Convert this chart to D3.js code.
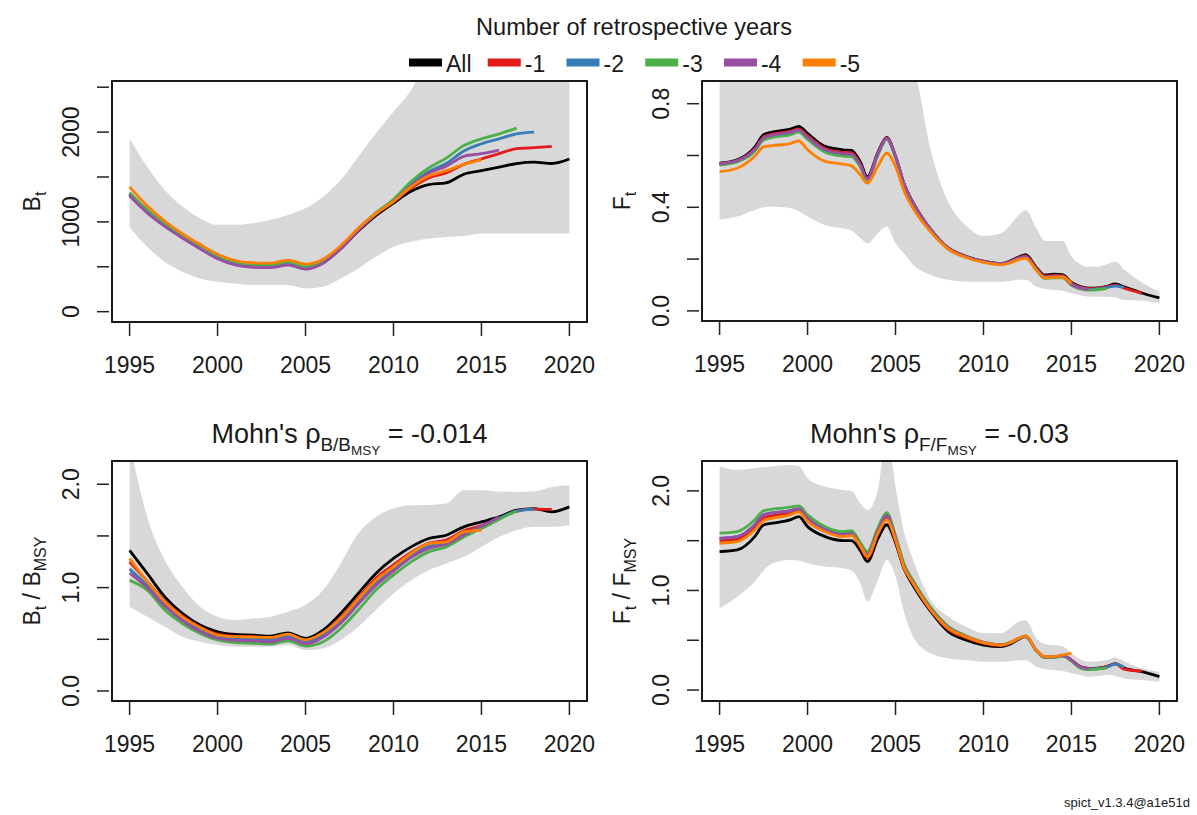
<!DOCTYPE html>
<html>
<head>
<meta charset="utf-8">
<script src="https://cdn.jsdelivr.net/npm/d3@7/dist/d3.min.js"></script>
<style>
  body { margin: 0; background: #fff; }
  text { font-family: "Liberation Sans", Arial, sans-serif; fill: #1a1a1a; }
</style>
</head>
<body>
<div id="plot"></div>
<script>
var w = 1197;
var h = 815;

// time steps
var yearsB = [1995, 1996, 1997, 1998, 1999, 2000, 2001, 2002, 2003, 2004, 2005, 2006, 2007,
	2008, 2009, 2010, 2011, 2012, 2013, 2014, 2015, 2016, 2017, 2018, 2019, 2020];
var yearsF = [1995, 1996, 1997, 1997.5, 1998, 1999, 1999.5, 2000, 2001, 2002, 2002.5, 2003, 2003.4,
	2004, 2004.5, 2005, 2005.5, 2006, 2007, 2008, 2009, 2010, 2011, 2011.5, 2012, 2012.4, 2013,
	2013.5, 2014, 2014.5, 2015, 2015.5, 2016, 2016.5, 2017, 2017.5, 2018, 2019, 2020];
var xTicks = [1995, 2000, 2005, 2010, 2015, 2020];

var retroNames = ['All', '-1', '-2', '-3', '-4', '-5'];
var retroColors = ['#000000', '#E41A1C', '#377EB8', '#4DAF4A', '#984EA3', '#FF7F00'];

// B_t
var btAll = [1300, 1110, 960, 830, 710, 600, 530, 505, 500, 530, 480, 545, 700, 900, 1070, 1210, 1340, 1415, 1435, 1530, 1570, 1610, 1650, 1665, 1650, 1700];
var btM1 = [1315, 1125, 970, 840, 720, 610, 540, 515, 510, 540, 490, 555, 710, 910, 1085, 1225, 1375, 1490, 1545, 1640, 1700, 1760, 1815, 1826, 1840];
var btM2 = [1320, 1130, 975, 845, 725, 615, 545, 520, 515, 545, 495, 560, 715, 920, 1095, 1240, 1420, 1560, 1650, 1790, 1870, 1925, 1980, 2000];
var btM3 = [1325, 1135, 980, 850, 730, 620, 550, 525, 520, 550, 500, 565, 720, 925, 1100, 1250, 1450, 1600, 1710, 1850, 1925, 1980, 2045];
var btM4 = [1290, 1100, 950, 820, 700, 590, 520, 495, 490, 520, 475, 540, 700, 905, 1085, 1230, 1400, 1540, 1620, 1730, 1760, 1800];
var btM5 = [1390, 1180, 1010, 870, 750, 640, 570, 545, 540, 575, 530, 585, 735, 930, 1095, 1225, 1390, 1510, 1570, 1640, 1690];
var btHi = [1930, 1615, 1356, 1170, 1041, 967, 967, 985, 1022, 1078, 1152, 1281, 1467, 1726, 1985, 2226, 2467, 2800, 2800, 2800, 2800, 2800, 2800, 2800, 2800, 2800];
var btLo = [944, 722, 555, 444, 370, 333, 315, 296, 296, 296, 259, 278, 370, 481, 611, 722, 778, 815, 833, 844, 870, 870, 870, 870, 870, 870];

// F_t
var ftAll = [0.570, 0.583, 0.632, 0.680, 0.690, 0.702, 0.712, 0.685, 0.635, 0.622, 0.620, 0.575, 0.518, 0.612, 0.670, 0.598, 0.488, 0.418, 0.315, 0.243, 0.211, 0.192, 0.183, 0.192, 0.208, 0.217, 0.168, 0.138, 0.142, 0.140, 0.110, 0.094, 0.088, 0.089, 0.095, 0.104, 0.093, 0.069, 0.050];
var ftM1 = [0.568, 0.580, 0.626, 0.672, 0.683, 0.693, 0.703, 0.676, 0.627, 0.612, 0.610, 0.567, 0.512, 0.608, 0.668, 0.596, 0.487, 0.417, 0.314, 0.242, 0.210, 0.191, 0.182, 0.190, 0.205, 0.212, 0.165, 0.134, 0.137, 0.136, 0.107, 0.092, 0.086, 0.088, 0.093, 0.099, 0.088, 0.068];
var ftM2 = [0.565, 0.577, 0.620, 0.665, 0.676, 0.686, 0.695, 0.668, 0.619, 0.604, 0.602, 0.560, 0.507, 0.604, 0.665, 0.594, 0.485, 0.415, 0.313, 0.241, 0.209, 0.190, 0.181, 0.189, 0.203, 0.209, 0.162, 0.130, 0.133, 0.133, 0.104, 0.089, 0.083, 0.085, 0.090, 0.096, 0.091];
var ftM3 = [0.563, 0.575, 0.616, 0.660, 0.670, 0.680, 0.690, 0.662, 0.613, 0.598, 0.596, 0.555, 0.503, 0.601, 0.663, 0.592, 0.484, 0.414, 0.312, 0.240, 0.208, 0.189, 0.180, 0.187, 0.200, 0.206, 0.158, 0.125, 0.128, 0.128, 0.099, 0.085, 0.080, 0.082, 0.086];
var ftM4 = [0.568, 0.580, 0.624, 0.668, 0.679, 0.689, 0.698, 0.671, 0.622, 0.607, 0.605, 0.563, 0.510, 0.606, 0.666, 0.595, 0.486, 0.416, 0.313, 0.241, 0.209, 0.190, 0.181, 0.189, 0.203, 0.208, 0.161, 0.130, 0.133, 0.133, 0.102, 0.088, 0.083];
var ftM5 = [0.538, 0.551, 0.597, 0.633, 0.638, 0.646, 0.656, 0.622, 0.577, 0.567, 0.560, 0.525, 0.493, 0.559, 0.609, 0.558, 0.461, 0.396, 0.305, 0.238, 0.206, 0.187, 0.178, 0.185, 0.198, 0.203, 0.158, 0.128, 0.130, 0.130, 0.105];
var ftHi = [1, 1, 1, 1, 1, 1, 1, 1, 1, 1, 1, 1, 1, 1, 1, 1, 1, 0.95, 0.62, 0.42, 0.33, 0.29, 0.30, 0.33, 0.37, 0.39, 0.32, 0.27, 0.27, 0.27, 0.21, 0.18, 0.17, 0.17, 0.18, 0.19, 0.16, 0.11, 0.075];
var ftLo = [0.352, 0.364, 0.390, 0.400, 0.403, 0.397, 0.385, 0.364, 0.332, 0.319, 0.310, 0.281, 0.261, 0.300, 0.326, 0.261, 0.220, 0.178, 0.139, 0.120, 0.113, 0.113, 0.113, 0.115, 0.120, 0.120, 0.094, 0.085, 0.081, 0.078, 0.068, 0.060, 0.055, 0.055, 0.055, 0.052, 0.042, 0.040, 0.030];

// B_t / B_MSY
var bbAll = [1.36, 1.137, 0.911, 0.75, 0.638, 0.573, 0.547, 0.541, 0.531, 0.563, 0.509, 0.589, 0.75, 0.944, 1.137, 1.282, 1.394, 1.475, 1.507, 1.588, 1.636, 1.684, 1.749, 1.765, 1.733, 1.781];
var bbM1 = [1.25, 1.06, 0.87, 0.725, 0.62, 0.55, 0.528, 0.523, 0.514, 0.546, 0.49, 0.56, 0.71, 0.90, 1.09, 1.22, 1.34, 1.43, 1.46, 1.55, 1.60, 1.67, 1.74, 1.76, 1.756];
var bbM2 = [1.18, 1.02, 0.84, 0.70, 0.59, 0.525, 0.505, 0.50, 0.49, 0.525, 0.47, 0.54, 0.68, 0.87, 1.05, 1.18, 1.31, 1.40, 1.43, 1.52, 1.59, 1.67, 1.74, 1.76];
var bbM3 = [1.07, 0.976, 0.783, 0.653, 0.557, 0.493, 0.467, 0.461, 0.454, 0.486, 0.435, 0.477, 0.605, 0.783, 0.976, 1.121, 1.249, 1.346, 1.394, 1.49, 1.571, 1.66, 1.742];
var bbM4 = [1.14, 1.0, 0.82, 0.68, 0.575, 0.51, 0.49, 0.485, 0.475, 0.51, 0.455, 0.52, 0.655, 0.84, 1.02, 1.16, 1.29, 1.38, 1.42, 1.51, 1.594, 1.684];
var bbM5 = [1.28, 1.06, 0.863, 0.718, 0.615, 0.541, 0.525, 0.522, 0.518, 0.55, 0.495, 0.565, 0.702, 0.89, 1.072, 1.201, 1.33, 1.426, 1.442, 1.539, 1.555];
var bbHi = [2.4, 1.684, 1.266, 1.008, 0.815, 0.718, 0.686, 0.70, 0.718, 0.766, 0.831, 0.976, 1.234, 1.523, 1.684, 1.765, 1.797, 1.80, 1.813, 1.942, 1.942, 1.93, 1.926, 1.93, 1.974, 1.99];
var bbLo = [0.815, 0.718, 0.621, 0.525, 0.477, 0.444, 0.428, 0.428, 0.428, 0.444, 0.396, 0.412, 0.493, 0.621, 0.783, 0.944, 1.072, 1.169, 1.234, 1.298, 1.394, 1.49, 1.555, 1.588, 1.588, 1.604];

// F_t / F_MSY
var ffAll = [1.39, 1.407, 1.541, 1.658, 1.675, 1.709, 1.742, 1.641, 1.541, 1.501, 1.50, 1.40, 1.29, 1.52, 1.66, 1.48, 1.21, 1.05, 0.79, 0.586, 0.503, 0.452, 0.436, 0.46, 0.51, 0.54, 0.40, 0.33, 0.33, 0.345, 0.30, 0.235, 0.218, 0.22, 0.235, 0.265, 0.22, 0.184, 0.134];
var ffM1 = [1.50, 1.515, 1.63, 1.73, 1.75, 1.78, 1.80, 1.71, 1.60, 1.55, 1.56, 1.44, 1.33, 1.57, 1.72, 1.50, 1.22, 1.07, 0.805, 0.61, 0.525, 0.468, 0.446, 0.47, 0.515, 0.54, 0.40, 0.332, 0.332, 0.347, 0.30, 0.233, 0.216, 0.218, 0.232, 0.262, 0.21, 0.19];
var ffM2 = [1.524, 1.54, 1.66, 1.76, 1.78, 1.80, 1.82, 1.73, 1.62, 1.57, 1.58, 1.46, 1.37, 1.61, 1.76, 1.53, 1.24, 1.085, 0.82, 0.63, 0.54, 0.478, 0.453, 0.475, 0.517, 0.54, 0.398, 0.33, 0.33, 0.345, 0.295, 0.228, 0.212, 0.215, 0.228, 0.26, 0.23];
var ffM3 = [1.575, 1.591, 1.709, 1.80, 1.816, 1.836, 1.849, 1.759, 1.64, 1.591, 1.60, 1.48, 1.39, 1.63, 1.782, 1.55, 1.26, 1.10, 0.83, 0.64, 0.545, 0.48, 0.455, 0.475, 0.515, 0.535, 0.395, 0.325, 0.325, 0.34, 0.29, 0.22, 0.205, 0.21, 0.22];
var ffM4 = [1.524, 1.54, 1.66, 1.76, 1.78, 1.80, 1.82, 1.725, 1.61, 1.56, 1.57, 1.455, 1.36, 1.60, 1.75, 1.525, 1.235, 1.08, 0.815, 0.628, 0.54, 0.478, 0.453, 0.476, 0.518, 0.54, 0.40, 0.33, 0.33, 0.345, 0.30, 0.232, 0.215];
var ffM5 = [1.474, 1.49, 1.608, 1.70, 1.725, 1.759, 1.79, 1.692, 1.59, 1.541, 1.55, 1.45, 1.34, 1.574, 1.709, 1.508, 1.223, 1.072, 0.804, 0.62, 0.536, 0.476, 0.452, 0.476, 0.52, 0.543, 0.402, 0.335, 0.335, 0.352, 0.369];
var ffHi = [2.245, 2.211, 2.228, 2.24, 2.245, 2.26, 2.25, 2.127, 2.043, 2.01, 2.0, 1.876, 1.809, 2.01, 2.6, 2.043, 1.575, 1.307, 0.905, 0.737, 0.637, 0.57, 0.57, 0.62, 0.687, 0.70, 0.52, 0.46, 0.452, 0.44, 0.369, 0.31, 0.285, 0.29, 0.302, 0.328, 0.29, 0.218, 0.184];
var ffLo = [0.821, 0.938, 1.089, 1.2, 1.273, 1.307, 1.30, 1.273, 1.240, 1.223, 1.20, 1.072, 0.888, 1.106, 1.307, 1.139, 0.771, 0.536, 0.369, 0.318, 0.302, 0.285, 0.285, 0.29, 0.30, 0.30, 0.235, 0.21, 0.201, 0.19, 0.168, 0.15, 0.134, 0.14, 0.151, 0.14, 0.117, 0.10, 0.084];

// panel setup
var panels = [
	{ box: [112, 81, 587, 322], ydom: [-115, 2569], yTicks: [0, 500, 1000, 1500, 2000, 2500], yLabels: [0, 1000, 2000], fmt: d3.format('d'),
	  t: yearsB, series: [btAll, btM1, btM2, btM3, btM4, btM5], lo: btLo, hi: btHi,
	  ylab: [['B'], ['t', 1]] },
	{ box: [702, 81, 1177, 321], ydom: [-0.039, 0.8876], yTicks: [0, 0.2, 0.4, 0.6, 0.8], yLabels: [0, 0.4, 0.8], fmt: d3.format('.1f'),
	  t: yearsF, series: [ftAll, ftM1, ftM2, ftM3, ftM4, ftM5], lo: ftLo, hi: ftHi,
	  ylab: [['F'], ['t', 1]] },
	{ box: [112, 461, 587, 701], ydom: [-0.097, 2.225], yTicks: [0, 0.5, 1, 1.5, 2], yLabels: [0, 1, 2], fmt: d3.format('.1f'),
	  t: yearsB, series: [bbAll, bbM1, bbM2, bbM3, bbM4, bbM5], lo: bbLo, hi: bbHi,
	  ylab: [['B'], ['t', 1], [' / B'], ['MSY', 1]],
	  title: [['Mohn\'s '], ['\u03C1'], ['B/B', 1], ['MSY', 2], [' = -0.014']] },
	{ box: [702, 461, 1177, 701], ydom: [-0.11, 2.30], yTicks: [0, 0.5, 1, 1.5, 2], yLabels: [0, 1, 2], fmt: d3.format('.1f'),
	  t: yearsF, series: [ffAll, ffM1, ffM2, ffM3, ffM4, ffM5], lo: ffLo, hi: ffHi,
	  ylab: [['F'], ['t', 1], [' / F'], ['MSY', 1]],
	  title: [['Mohn\'s '], ['\u03C1'], ['F/F', 1], ['MSY', 2], [' = -0.03']] }
];

var svg = d3.select('#plot').append('svg')
	.attr('width', w)
	.attr('height', h);

// text with plotmath-like subscripts
function rich (sel, parts, size) {
	var scale = [1, 0.7, 0.5];
	var shift = [0, 0.28, 0.45];
	var cur = 0;
	parts.forEach(function (p) {
		var lvl = p[1] || 0;
		sel.append('tspan')
			.attr('font-size', (size * scale[lvl]) + 'px')
			.attr('dy', ((shift[lvl] - shift[cur]) * size) + 'px')
			.text(p[0]);
		cur = lvl;
	});
}

panels.forEach(function (p, k) {
	var x0 = p.box[0], y0 = p.box[1], x1 = p.box[2], y1 = p.box[3];
	var x = d3.scaleLinear().domain([1994, 2021]).range([x0, x1]);
	var y = d3.scaleLinear().domain(p.ydom).range([y1, y0]);
	var g = svg.append('g');

	g.append('clipPath').attr('id', 'clip' + k)
		.append('rect')
		.attr('x', x0).attr('y', y0)
		.attr('width', x1 - x0).attr('height', y1 - y0);

	var plot = g.append('g').attr('clip-path', 'url(#clip' + k + ')');

	var area = d3.area()
		.x(function (d, i) { return x(p.t[i]); })
		.y0(function (d, i) { return y(p.lo[i]); })
		.y1(function (d, i) { return y(p.hi[i]); })
		.curve(d3.curveMonotoneX);

	plot.append('path')
		.datum(p.lo)
		.attr('d', area)
		.attr('fill', '#d8d8d8');

	var line = d3.line()
		.x(function (d, i) { return x(p.t[i]); })
		.y(function (d) { return y(d); })
		.curve(d3.curveMonotoneX);

	p.series.forEach(function (s, i) {
		plot.append('path')
			.datum(s)
			.attr('d', line)
			.attr('fill', 'none')
			.attr('stroke', retroColors[i])
			.attr('stroke-width', 2.8)
			.attr('stroke-linejoin', 'round');
	});

	g.append('rect')
		.attr('x', x0).attr('y', y0)
		.attr('width', x1 - x0).attr('height', y1 - y0)
		.attr('fill', 'none')
		.attr('stroke', '#000')
		.attr('stroke-width', 1.8);

	// y axis
	g.selectAll('.ytick')
		.data(p.yTicks)
		.enter()
		.append('line')
		.attr('x1', x0 - 15).attr('x2', x0 - 3)
		.attr('y1', function (d) { return y(d); })
		.attr('y2', function (d) { return y(d); })
		.attr('stroke', '#222')
		.attr('stroke-width', 1.5);

	g.selectAll('.ylab')
		.data(p.yLabels)
		.enter()
		.append('text')
		.attr('transform', function (d) { return 'translate(' + (x0 - 33) + ',' + y(d) + ') rotate(-90)'; })
		.attr('text-anchor', 'middle')
		.attr('font-size', '23px')
		.text(function (d) { return p.fmt(d); });

	// x axis
	g.selectAll('.xtick')
		.data(xTicks)
		.enter()
		.append('line')
		.attr('x1', function (d) { return x(d); })
		.attr('x2', function (d) { return x(d); })
		.attr('y1', y1 + 1).attr('y2', y1 + 14)
		.attr('stroke', '#222')
		.attr('stroke-width', 1.5);

	g.selectAll('.xlab')
		.data(xTicks)
		.enter()
		.append('text')
		.attr('x', function (d) { return x(d); })
		.attr('y', y1 + 51)
		.attr('text-anchor', 'middle')
		.attr('font-size', '23px')
		.text(function (d) { return d; });

	// axis title
	var yt = g.append('text')
		.attr('transform', 'translate(' + (x0 - 72) + ',' + ((y0 + y1) / 2) + ') rotate(-90)')
		.attr('text-anchor', 'middle');
	rich(yt, p.ylab, 23);

	if (p.title) {
		var tt = g.append('text')
			.attr('x', (x0 + x1) / 2)
			.attr('y', y0 - 18)
			.attr('text-anchor', 'middle');
		rich(tt, p.title, 27);
	}
});

// legend
svg.append('text')
	.attr('x', 634).attr('y', 35)
	.attr('text-anchor', 'middle')
	.attr('font-size', '23.6px')
	.text('Number of retrospective years');

var lx = d3.scaleLinear().domain([0, 5]).range([409, 802.7]);

var legend = svg.selectAll('.leg')
	.data(retroNames)
	.enter()
	.append('g');

legend.append('rect')
	.attr('x', function (d, i) { return lx(i); })
	.attr('y', 58.5)
	.attr('width', 33).attr('height', 8)
	.attr('fill', function (d, i) { return retroColors[i]; });

legend.append('text')
	.attr('x', function (d, i) { return lx(i) + 37; })
	.attr('y', 71.5)
	.attr('font-size', '23px')
	.text(function (d) { return d; });

svg.append('text')
	.attr('x', 1190).attr('y', 807)
	.attr('text-anchor', 'end')
	.attr('font-size', '13px')
	.attr('fill', '#333')
	.text('spict_v1.3.4@a1e51d');
</script>
</body>
</html>
